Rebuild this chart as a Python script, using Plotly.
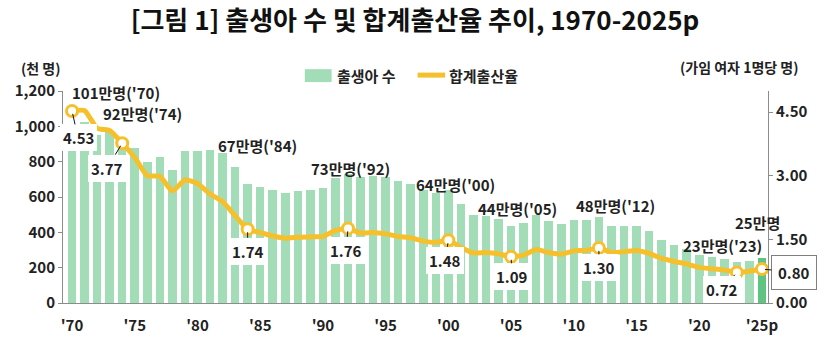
import plotly.graph_objects as go

# ---------------- data ----------------
years = list(range(1970, 2026))
births = [1007, 1025, 952, 967, 922, 875, 797, 826, 751, 863,
          863, 867, 848, 770, 675, 656, 637, 624, 634, 640,
          650, 710, 731, 716, 721, 715, 691, 676, 642, 621,
          640, 560, 497, 495, 476, 438, 452, 497, 466, 445,
          470, 471, 485, 437, 435, 438, 406, 358, 327, 303,
          272, 261, 249, 230, 238, 254]
tfr = [4.53, 4.54, 4.12, 4.07, 3.77, 3.43, 3.00, 2.99, 2.64, 2.90,
       2.82, 2.57, 2.39, 2.06, 1.74, 1.66, 1.58, 1.53, 1.55, 1.56,
       1.57, 1.71, 1.76, 1.65, 1.66, 1.63, 1.57, 1.54, 1.46, 1.43,
       1.48, 1.31, 1.18, 1.19, 1.16, 1.09, 1.13, 1.26, 1.19, 1.15,
       1.23, 1.24, 1.30, 1.19, 1.21, 1.24, 1.17, 1.05, 0.98, 0.92,
       0.84, 0.81, 0.78, 0.72, 0.75, 0.80]

tick_years = [1970, 1975, 1980, 1985, 1990, 1995, 2000, 2005, 2010, 2015, 2020, 2025]
tick_labels = ["'70", "'75", "'80", "'85", "'90", "'95", "'00", "'05", "'10", "'15", "'20", "'25p"]

left_ticks = [0, 200, 400, 600, 800, 1000, 1200]
right_ticks = [0.0, 1.5, 3.0, 4.5]

hl_years = [1970, 1974, 1984, 1992, 2000, 2005, 2012, 2023, 2025]
count_labels = ["101만명('70)", "92만명('74)", "67만명('84)", "73만명('92)", "64만명('00)",
                "44만명('05)", "48만명('12)", "23만명('23)", "25만명"]

title_text = "[그림 1] 출생아 수 및 합계출산율 추이, 1970-2025p"
left_unit = "(천 명)"
right_unit = "(가임 여자 1명당 명)"
legend_names = ["출생아 수", "합계출산율"]

# ---------------- styles ----------------
FONT = "Noto Sans CJK KR"
BAR = "#a2ddb7"
BAR_LAST = "#5dc482"
LINE = "#f5c02b"
AX = "#8c8c8c"
TXT = "#222222"

# pixel offsets (style) for count labels: (xshift, yshift)
count_shift = [(44, 33), (20, 27), (10, 38), (2, 5), (7, 5), (6, 17), (17, 12), (-14, 17), (-4, 36)]
# pixel offsets for tfr value boxes: (ax, ay)
tfr_off = [(6, 27), (-15, 25), (0, 22), (-2, 22), (-3, 20), (1, 20), (0, 20), (-15, 17), (32, 3)]

idx = [years.index(y) for y in hl_years]

bar_colors = [BAR] * (len(years) - 1) + [BAR_LAST]

fig = go.Figure()
fig.add_trace(go.Bar(x=years, y=births, marker=dict(color=bar_colors, line=dict(width=0)),
                     width=0.68, name=legend_names[0], showlegend=False, yaxis="y"))
fig.add_trace(go.Scatter(x=years, y=tfr, mode="lines", name=legend_names[1],
                         line=dict(color=LINE, width=5, shape="spline", smoothing=0.5),
                         showlegend=False, yaxis="y2"))
fig.add_trace(go.Scatter(x=[years[i] for i in idx], y=[tfr[i] for i in idx], mode="markers",
                         marker=dict(size=11, color="white", line=dict(color=LINE, width=3)),
                         showlegend=False, yaxis="y2", hoverinfo="skip"))

ann = []
for k, i in enumerate(idx):
    xs, ys = count_shift[k]
    ann.append(dict(x=years[i], y=births[i], xref="x", yref="y", text="<b>%s</b>" % count_labels[k],
                    showarrow=False, xshift=xs, yshift=ys, xanchor="center", yanchor="middle",
                    font=dict(family=FONT, size=15, color=TXT)))
for k, i in enumerate(idx):
    ax, ay = tfr_off[k]
    last = (k == len(idx) - 1)
    ann.append(dict(x=years[i], y=tfr[i], xref="x", yref="y2", text="<b>%.2f</b>" % tfr[i],
                    showarrow=True, arrowhead=0, arrowwidth=1, arrowcolor="#111", standoff=3,
                    ax=ax, ay=ay, bgcolor="white", borderpad=6 if last else 3,
                    bordercolor="#7f7f7f" if last else "rgba(0,0,0,0)", borderwidth=1 if last else 0,
                    font=dict(family=FONT, size=15, color=TXT)))

# axis unit labels
ann.append(dict(x=-0.031, y=1.108, xref="paper", yref="paper", text="<b>%s</b>" % left_unit,
                xanchor="center", yanchor="middle", showarrow=False,
                font=dict(family=FONT, size=14, color=TXT)))
ann.append(dict(x=0.959, y=1.113, xref="paper", yref="paper", text="<b>%s</b>" % right_unit,
                xanchor="center", yanchor="middle", showarrow=False,
                font=dict(family=FONT, size=14, color=TXT)))
# legend texts
ann.append(dict(x=0.386, y=1.075, xref="paper", yref="paper", text="<b>%s</b>" % legend_names[0],
                xanchor="left", yanchor="middle", showarrow=False,
                font=dict(family=FONT, size=15, color=TXT)))
ann.append(dict(x=0.545, y=1.075, xref="paper", yref="paper", text="<b>%s</b>" % legend_names[1],
                xanchor="left", yanchor="middle", showarrow=False,
                font=dict(family=FONT, size=15, color=TXT)))

shapes = [
    dict(type="rect", xref="paper", yref="paper", x0=0.343, x1=0.381, y0=1.042, y1=1.103,
         fillcolor=BAR, line=dict(width=0)),
    dict(type="line", xref="paper", yref="paper", x0=0.503, x1=0.542, y0=1.075, y1=1.075,
         line=dict(color=LINE, width=5)),
]

tickfont = dict(family=FONT, size=15, color=TXT, weight="bold")

fig.update_layout(
    width=830, height=343,
    margin=dict(l=63, r=62, t=91, b=40, autoexpand=False),
    paper_bgcolor="white", plot_bgcolor="white",
    title=dict(text="<b>%s</b>" % title_text, x=0.5, xref="container", xanchor="center",
               y=1 - 21 / 343, yref="container", yanchor="middle",
               font=dict(family=FONT, size=26, color="#111")),
    bargap=0,
    annotations=ann, shapes=shapes,
    xaxis=dict(range=[1969.28, 2025.48], tickvals=tick_years, ticktext=tick_labels,
               showline=True, linecolor=AX, linewidth=1, ticks="", showgrid=False, zeroline=False,
               ticklabelstandoff=9, tickfont=tickfont, automargin=False),
    yaxis=dict(range=[0, 1200], tickvals=left_ticks, tickformat=",", showline=True, linecolor=AX,
               linewidth=1, ticks="outside", ticklen=4, tickcolor=AX, showgrid=False, zeroline=False,
               tickfont=tickfont, automargin=False),
    yaxis2=dict(range=[0, 5.0], tickvals=right_ticks, tickformat=".2f", overlaying="y", side="right",
                showline=True, linecolor=AX, linewidth=1, ticks="outside", ticklen=4, tickcolor=AX,
                showgrid=False, zeroline=False, tickfont=tickfont, automargin=False),
    font=dict(family=FONT),
)

fig.write_html("out.html")
